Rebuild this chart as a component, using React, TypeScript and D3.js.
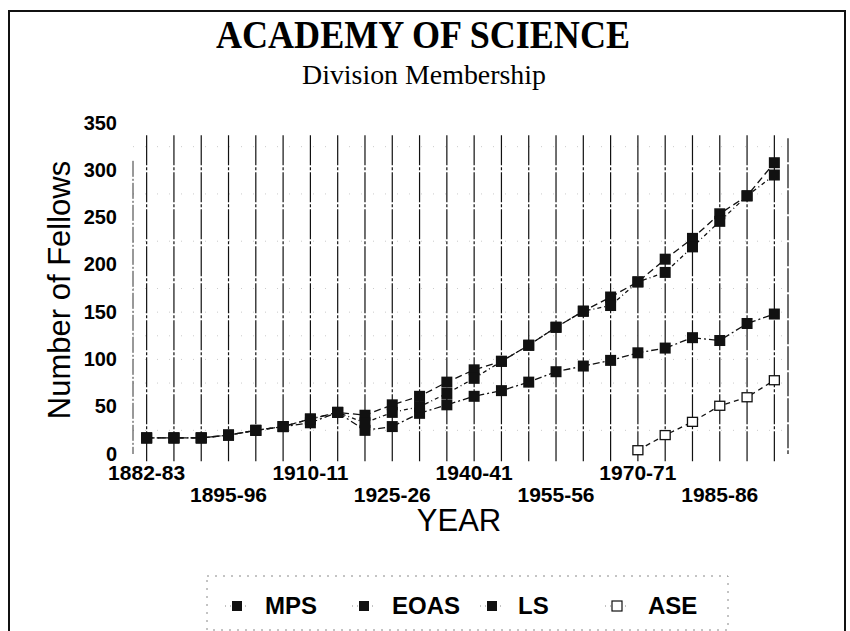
import React from "react";
import * as d3 from "d3";

const categories = [
  "1882-83", "1885-86", "1890-91", "1895-96", "1900-01", "1905-06",
  "1910-11", "1915-16", "1920-21", "1925-26", "1930-31", "1935-36",
  "1940-41", "1945-46", "1950-51", "1955-56", "1960-61", "1965-66",
  "1970-71", "1975-76", "1980-81", "1985-86", "1990-91", "1995-96",
];

const labelledCategories = [
  "1882-83", "1895-96", "1910-11", "1925-26", "1940-41", "1955-56", "1970-71", "1985-86",
];

const mpsValues = [17, 17, 17, 20, 25, 29, 37, 44, 41, 52, 61, 76, 89, 98, 115, 134, 151, 166, 182, 206, 228, 254, 273, 308];
const lsValues = [17, 17, 17, 20, 25, 29, 37, 44, 33, 44, 50, 64, 80, 98, 115, 134, 151, 157, 182, 192, 219, 246, 273, 295];
const eoasValues = [17, 17, 17, 20, 25, 29, 33, 44, 25, 29, 43, 52, 61, 67, 76, 87, 93, 99, 107, 112, 123, 120, 138, 148];
const aseValues: (number | null)[] = [
  null, null, null, null, null, null, null, null, null, null, null, null,
  null, null, null, null, null, null, 4, 20, 34, 51, 60, 78,
];

const yTicks = [0, 50, 100, 150, 200, 250, 300, 350];
const gridValues = [25, 75, 100, 125, 150, 175, 225, 275, 325];

const seriesNames = ["MPS", "EOAS", "LS", "ASE"];

const W = 850;
const H = 631;

export default function App() {
  const x = d3.scaleBand<string>().domain(categories).range([133, 788]).padding(0);
  const y = d3.scaleLinear().domain([0, 350]).range([454, 123]);
  const cx = (c: string) => (x(c) as number) + x.bandwidth() / 2;

  const series = [
    { name: "MPS", values: mpsValues as (number | null)[], dash: "7,4", open: false },
    { name: "EOAS", values: eoasValues as (number | null)[], dash: "7,3,2,3", open: false },
    { name: "LS", values: lsValues as (number | null)[], dash: "4,3,1,3", open: false },
    { name: "ASE", values: aseValues, dash: "5,4", open: true },
  ];

  const line = d3
    .line<number | null>()
    .defined((d) => d !== null)
    .x((_, i) => cx(categories[i]))
    .y((d) => y(d as number));

  const ms = 11;
  const legendX = [237, 364, 492, 617];
  const legendTextX = [265, 392, 518, 648];
  const legendY = 606;

  return (
    <svg
      width={W}
      height={H}
      style={{ position: "absolute", left: 0, top: 0, background: "#fff" }}
      fontFamily="'Liberation Sans', Arial, sans-serif"
    >
      <rect x={0} y={0} width={W} height={H} fill="#fff" />
      {/* frame */}
      <rect x={9} y={11} width={836} height={640} fill="none" stroke="#111" strokeWidth={2} />

      {/* titles */}
      <text
        x={423}
        y={48}
        textAnchor="middle"
        fontFamily="'Liberation Serif', 'Times New Roman', serif"
        fontWeight="bold"
        fontSize={39}
        textLength={414}
        lengthAdjust="spacingAndGlyphs"
      >
        ACADEMY OF SCIENCE
      </text>
      <text
        x={424}
        y={84}
        textAnchor="middle"
        fontFamily="'Liberation Serif', 'Times New Roman', serif"
        fontSize={28}
        textLength={244}
        lengthAdjust="spacingAndGlyphs"
      >
        Division Membership
      </text>

      {/* faint horizontal dotted gridlines */}
      {gridValues.map((v) => (
        <line
          key={"g" + v}
          x1={133}
          x2={788}
          y1={y(v)}
          y2={y(v)}
          stroke="#aaa"
          strokeWidth={1}
          strokeDasharray="1,11"
          opacity={0.6}
        />
      ))}

      {/* plot edge lines */}
      <line x1={133} x2={133} y1={y(310)} y2={y(0)} stroke="#333" strokeWidth={1} strokeDasharray="16,2,2,2" />
      <line x1={788} x2={788} y1={y(334)} y2={y(0)} stroke="#222" strokeWidth={1.3} strokeDasharray="24,2" />

      {/* vertical category lines */}
      {categories.map((c) => (
        <line
          key={"v" + c}
          x1={cx(c)}
          x2={cx(c)}
          y1={y(337)}
          y2={462}
          stroke="#111"
          strokeWidth={1.2}
          strokeDasharray="30,2,3,2"
        />
      ))}

      {/* series lines */}
      {series.map((s) => (
        <path
          key={"l" + s.name}
          d={line(s.values) || ""}
          fill="none"
          stroke="#111"
          strokeWidth={1.3}
          strokeDasharray={s.dash}
        />
      ))}

      {/* markers */}
      {series.map((s) =>
        s.values.map((v, i) =>
          v === null ? null : (
            <rect
              key={s.name + i}
              x={cx(categories[i]) - (s.open ? 5 : ms / 2)}
              y={y(v) - (s.open ? 4.5 : ms / 2)}
              width={s.open ? 10 : ms}
              height={s.open ? 9 : ms}
              fill={s.open ? "#fff" : "#111"}
              stroke="#111"
              strokeWidth={s.open ? 1.3 : 0}
            />
          )
        )
      )}

      {/* y tick labels */}
      {yTicks.map((t) => (
        <text key={"yt" + t} x={117} y={y(t)} dy="0.33em" textAnchor="end" fontSize={20} fontWeight="bold">
          {t}
        </text>
      ))}

      {/* x tick labels, staggered */}
      {labelledCategories.map((c, k) => (
        <text
          key={"xt" + c}
          x={cx(c)}
          y={k % 2 === 0 ? 480 : 502}
          textAnchor="middle"
          fontSize={21}
          fontWeight="bold"
        >
          {c}
        </text>
      ))}

      {/* axis titles */}
      <text x={459} y={531} textAnchor="middle" fontSize={31}>
        YEAR
      </text>
      <text transform="translate(70,290) rotate(-90)" textAnchor="middle" fontSize={31}>
        Number of Fellows
      </text>

      {/* legend */}
      <rect
        x={207}
        y={576}
        width={521}
        height={54}
        fill="none"
        stroke="#888"
        strokeWidth={1}
        strokeDasharray="2,6"
      />
      {seriesNames.map((n, i) => {
        const s = series.find((d) => d.name === n)!;
        return (
          <g key={"lg" + n}>
            <line
              x1={legendX[i] - 12}
              x2={legendX[i] + 12}
              y1={legendY}
              y2={legendY}
              stroke="#888"
              strokeWidth={1}
              strokeDasharray="1,4"
            />
            <rect
              x={legendX[i] - 5}
              y={legendY - 5}
              width={10}
              height={10}
              fill={s.open ? "#fff" : "#111"}
              stroke="#111"
              strokeWidth={s.open ? 1.2 : 0}
            />
            <text x={legendTextX[i]} y={legendY + 8} fontSize={24} fontWeight="bold">
              {n}
            </text>
          </g>
        );
      })}
    </svg>
  );
}
